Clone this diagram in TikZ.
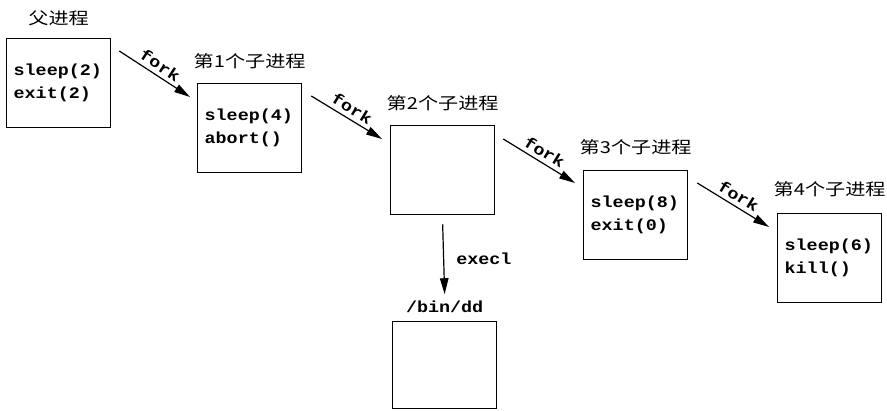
\documentclass[tikz,border=0pt]{standalone}
\usepackage{fontspec}
\usetikzlibrary{arrows.meta}
\newfontfamily\cjkfont[FakeStretch=1.22]{Noto Sans CJK SC}
\newfontfamily\codefont[FakeStretch=1.15]{Liberation Mono}
\begin{document}
\begin{tikzpicture}[x=1pt,y=-1pt,
  proc/.style={draw, line width=1.3pt, minimum width=104pt, minimum height=89pt,
    inner sep=0pt, anchor=north west, text width=90pt, align=left,
    font=\codefont\bfseries\fontsize{16}{23}\selectfont},
  title/.style={font=\cjkfont\fontsize{16.5}{18}\selectfont, inner sep=0pt},
  call/.style={line width=1.2pt, -{Triangle[length=16pt,width=8.5pt]}},
  callname/.style={font=\codefont\bfseries\fontsize{16}{18}\selectfont, inner sep=1pt}
]
\useasboundingbox (0,0) rectangle (887,411);

% processes
\node[proc] (p)  at (6,38)   {sleep(2)\\exit(2)};
\node[proc] (c1) at (197,83) {sleep(4)\\abort()};
\node[proc] (c2) at (390,125) {};
\node[proc] (c3) at (583,170) {sleep(8)\\exit(0)};
\node[proc] (c4) at (777,213) {sleep(6)\\kill()};
\node[proc, minimum height=87pt] (dd) at (392,321) {};

% titles above the boxes
\node[title] (tp)  at ([yshift=20pt]p.north)  {父进程};
\node[title] (t1)  at ([yshift=22pt]c1.north) {第1个子进程};
\node[title] (t2)  at ([yshift=22pt]c2.north) {第2个子进程};
\node[title] (t3)  at ([yshift=23pt]c3.north) {第3个子进程};
\node[title] (t4)  at ([yshift=24pt]c4.north) {第4个子进程};
\node[callname, anchor=base] (tdd) at ([yshift=8pt]dd.north) {/bin/dd};

% fork arrows
\draw[call] ([xshift=8pt,yshift=-13pt]p.north east) --
  node[callname, sloped, above=3pt] (k1) {fork} ([xshift=-7pt,yshift=-14pt]c1.north west);
\draw[call] ([xshift=9pt,yshift=-13pt]c1.north east) --
  node[callname, sloped, above=3pt] (k2) {fork} ([xshift=-8pt,yshift=-14pt]c2.north west);
\draw[call] ([xshift=8pt,yshift=-14pt]c2.north east) --
  node[callname, sloped, above=3pt] (k3) {fork} ([xshift=-8pt,yshift=-13pt]c3.north west);
\draw[call] ([xshift=9pt,yshift=-13pt]c3.north east) --
  node[callname, sloped, above=3pt] (k4) {fork} ([xshift=-8pt,yshift=-14pt]c4.north west);

% exec
\draw[call] ([yshift=-9pt]c2.south) --
  node[callname, right=11pt] (ex) {execl} ([yshift=6pt]tdd.north);
\end{tikzpicture}
\end{document}
